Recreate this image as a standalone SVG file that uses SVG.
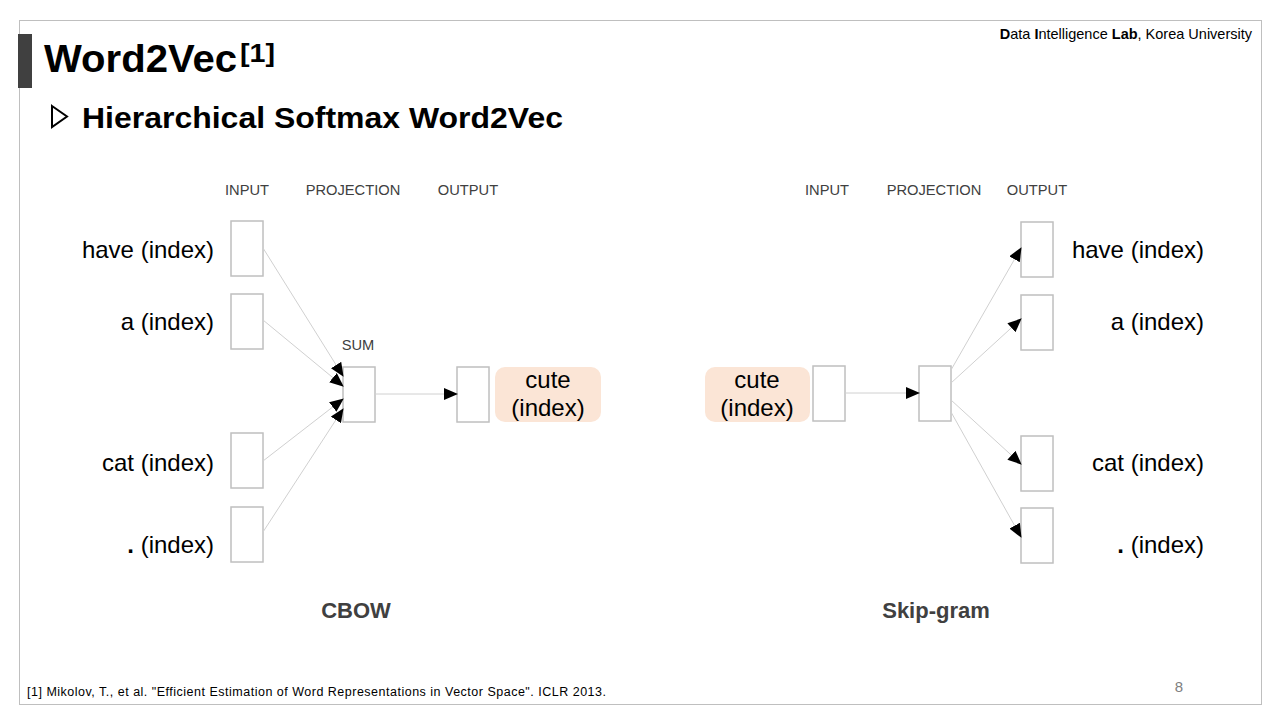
<svg xmlns="http://www.w3.org/2000/svg" width="1280" height="720" viewBox="0 0 1280 720">
<defs>
<marker id="ah" markerUnits="userSpaceOnUse" markerWidth="14" markerHeight="12" refX="13" refY="6" orient="auto">
<path d="M0,0 L14,6 L0,12 Z" fill="#000"/>
</marker>
<style>
.box{fill:#fff;stroke:#bfbfbf;stroke-width:1.5}
.hl{fill:#fbe5d6}
.lbl{font-family:"Liberation Sans",Arial,sans-serif;font-size:24px;fill:#000}
.hdr{font-family:"Liberation Sans",Arial,sans-serif;font-size:14.7px;fill:#404040;text-anchor:middle}
.cap{font-family:"Liberation Sans",Arial,sans-serif;font-size:22px;font-weight:bold;fill:#404040;text-anchor:middle}
.con line{stroke:#d0d0d0;stroke-width:1;marker-end:url(#ah)}
</style>
</defs>
<rect width="1280" height="720" fill="#fff"/>
<rect x="19.5" y="20.5" width="1242" height="684" fill="none" stroke="#bfbfbf" stroke-width="1"/>
<rect x="18" y="34" width="14" height="54" fill="#404040"/>
<text x="44" y="72" font-family="'Liberation Sans',Arial,sans-serif" font-size="38" font-weight="bold" fill="#000" textLength="193" lengthAdjust="spacingAndGlyphs">Word2Vec</text>
<text x="240" y="62" font-family="'Liberation Sans',Arial,sans-serif" font-size="25" font-weight="bold" fill="#000" textLength="35" lengthAdjust="spacingAndGlyphs">[1]</text>
<path d="M52,106 L67,116.5 L52,127 Z" fill="none" stroke="#000" stroke-width="2"/>
<text x="82" y="128" font-family="'Liberation Sans',Arial,sans-serif" font-size="30" font-weight="bold" fill="#000" textLength="481" lengthAdjust="spacingAndGlyphs">Hierarchical Softmax Word2Vec</text>
<text x="1252" y="39" text-anchor="end" font-family="'Liberation Sans',Arial,sans-serif" font-size="14.5" fill="#000"><tspan font-weight="bold">D</tspan>ata <tspan font-weight="bold">I</tspan>ntelligence <tspan font-weight="bold">Lab</tspan>, Korea University</text>

<g id="cbow">
<text class="hdr" x="247" y="195">INPUT</text>
<text class="hdr" x="353" y="195">PROJECTION</text>
<text class="hdr" x="468" y="195">OUTPUT</text>
<text class="hdr" x="358" y="350" font-size="13.5">SUM</text>
<text class="cap" x="356" y="618">CBOW</text>
</g>
<g id="cbow-in-have"><rect class="box" x="231" y="221" width="32" height="55"/><text class="lbl" x="214" y="258" text-anchor="end">have (index)</text></g>
<g id="cbow-in-a"><rect class="box" x="231" y="294" width="32" height="55"/><text class="lbl" x="214" y="330" text-anchor="end">a (index)</text></g>
<g id="cbow-in-cat"><rect class="box" x="231" y="433" width="32" height="55"/><text class="lbl" x="214" y="471" text-anchor="end">cat (index)</text></g>
<g id="cbow-in-dot"><rect class="box" x="231" y="507" width="32" height="55"/><text class="lbl" x="214" y="553" text-anchor="end"><tspan font-weight="bold">.</tspan> (index)</text></g>
<g id="cbow-sum"><rect class="box" x="343" y="367" width="32" height="55"/></g>
<g id="cbow-out"><rect class="box" x="457" y="367" width="32" height="55"/><rect class="hl" x="495" y="367" width="106" height="55" rx="10"/><text class="lbl" x="548" y="388" text-anchor="middle">cute</text><text class="lbl" x="548" y="416" text-anchor="middle">(index)</text></g>

<g id="skip">
<text class="hdr" x="827" y="195">INPUT</text>
<text class="hdr" x="934" y="195">PROJECTION</text>
<text class="hdr" x="1037" y="195">OUTPUT</text>
<text class="cap" x="936" y="618">Skip-gram</text>
</g>
<g id="sg-in"><rect class="hl" x="705" y="367" width="105" height="55" rx="10"/><text class="lbl" x="757" y="388" text-anchor="middle">cute</text><text class="lbl" x="757" y="416" text-anchor="middle">(index)</text><rect class="box" x="813" y="366" width="32" height="55"/></g>
<g id="sg-proj"><rect class="box" x="919" y="366" width="32" height="55"/></g>
<g id="sg-out-have"><rect class="box" x="1021" y="222" width="32" height="55"/><text class="lbl" x="1204" y="258" text-anchor="end">have (index)</text></g>
<g id="sg-out-a"><rect class="box" x="1021" y="295" width="32" height="55"/><text class="lbl" x="1204" y="330" text-anchor="end">a (index)</text></g>
<g id="sg-out-cat"><rect class="box" x="1021" y="436" width="32" height="55"/><text class="lbl" x="1204" y="471" text-anchor="end">cat (index)</text></g>
<g id="sg-out-dot"><rect class="box" x="1021" y="508" width="32" height="55"/><text class="lbl" x="1204" y="553" text-anchor="end"><tspan font-weight="bold">.</tspan> (index)</text></g>

<g id="connectors" class="con">
<line x1="263" y1="248" x2="343" y2="376"/>
<line x1="263" y1="320" x2="343" y2="386"/>
<line x1="263" y1="461" x2="343" y2="399"/>
<line x1="263" y1="532" x2="343" y2="409"/>
<line x1="375" y1="394" x2="457" y2="394"/>
<line x1="845" y1="393" x2="919" y2="393"/>
<line x1="951" y1="370" x2="1021" y2="248"/>
<line x1="951" y1="383" x2="1021" y2="319"/>
<line x1="951" y1="400" x2="1021" y2="464"/>
<line x1="951" y1="412" x2="1021" y2="537"/>
</g>

<text x="27" y="696" font-family="'Liberation Sans',Arial,sans-serif" font-size="12.5" fill="#000" textLength="579" lengthAdjust="spacing">[1] Mikolov, T., et al. "Efficient Estimation  of Word Representations in Vector Space". ICLR 2013.</text>
<text x="1179" y="692" text-anchor="middle" font-family="'Liberation Sans',Arial,sans-serif" font-size="15" fill="#808080">8</text>
</svg>
